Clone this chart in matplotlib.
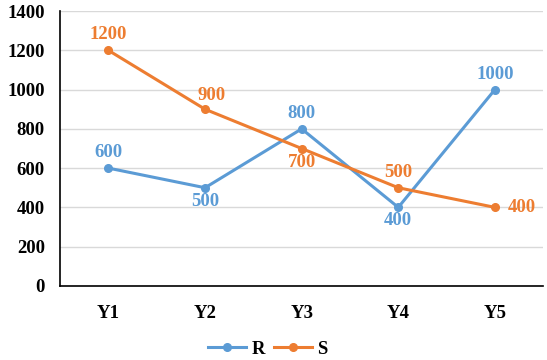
import matplotlib.pyplot as plt

categories = ["Y1", "Y2", "Y3", "Y4", "Y5"]
r_values = [600, 500, 800, 400, 1000]
s_values = [1200, 900, 700, 500, 400]

# label placement per point: (dx px, dy px, ha, va)
r_offsets = [(0, 7, "center", "bottom"), (0, -5, "center", "top"), (0, 7, "center", "bottom"),
             (0, -5, "center", "top"), (0, 7, "center", "bottom")]
s_offsets = [(0, 7, "center", "bottom"), (6, 5, "center", "bottom"), (0, -5, "center", "top"),
             (0, 7, "center", "bottom"), (13, 0, "left", "center")]

blue = "#5B9BD5"
orange = "#ED7D31"

plt.rcParams["font.family"] = ["Liberation Serif", "DejaVu Serif"]
plt.rcParams["font.weight"] = "bold"

fig = plt.figure(figsize=(5.47, 3.6), dpi=100)
ax = fig.add_axes([0.11, 0.206, 0.883, 0.763])

x = list(range(len(categories)))
ax.plot(x, r_values, color=blue, lw=2.2, marker="o", ms=5.5, label="R", zorder=3)
ax.plot(x, s_values, color=orange, lw=2.2, marker="o", ms=5.5, label="S", zorder=3)

for xi, v, (dx, dy, ha, va) in zip(x, r_values, r_offsets):
    ax.annotate(str(v), (xi, v), xytext=(dx, dy), textcoords="offset pixels",
                ha=ha, va=va, color=blue, fontsize=13.5, fontweight="bold")
for xi, v, (dx, dy, ha, va) in zip(x, s_values, s_offsets):
    ax.annotate(str(v), (xi, v), xytext=(dx, dy), textcoords="offset pixels",
                ha=ha, va=va, color=orange, fontsize=13.5, fontweight="bold")

ax.set_xlim(-0.5, len(categories) - 0.5)
ax.set_ylim(0, 1400)
ax.set_yticks(range(0, 1401, 200))
ax.set_xticks(x)
ax.set_xticklabels(categories)
ax.tick_params(length=0, labelsize=13.5)
ax.tick_params(axis="y", pad=11)
ax.tick_params(axis="x", pad=14)
for lab in ax.get_xticklabels() + ax.get_yticklabels():
    lab.set_fontweight("bold")

ax.grid(axis="y", color="#D9D9D9", lw=1)
ax.set_axisbelow(True)
for side in ["top", "right"]:
    ax.spines[side].set_visible(False)
for side in ["left", "bottom"]:
    ax.spines[side].set_color("black")
    ax.spines[side].set_linewidth(1.2)

fig.legend(loc="center", bbox_to_anchor=(0.49, 0.03), ncol=2, frameon=False,
           fontsize=13.5, handlelength=2.0, columnspacing=0.5, handletextpad=0.3)

fig.savefig("out.png", dpi=100)
